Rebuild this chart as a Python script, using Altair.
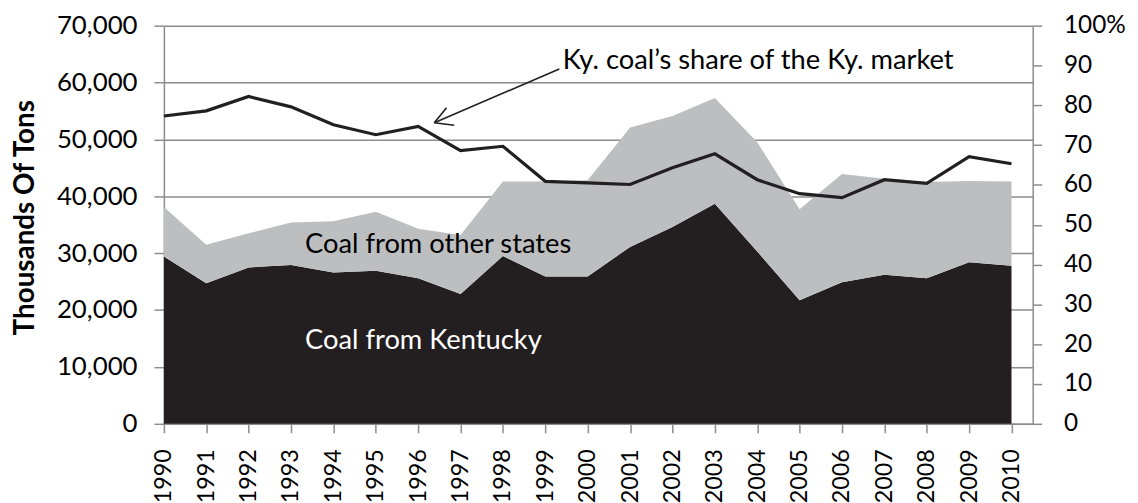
import altair as alt
import pandas as pd

years = list(range(1990, 2011))
kentucky = [29400, 24700, 27500, 27900, 26600, 26900, 25600, 22800, 29500, 25900, 25900,
            31100, 34600, 38700, 30300, 21700, 24900, 26200, 25600, 28400, 27800]
other_states = [8700, 6800, 6000, 7500, 9000, 10400, 8700, 10400, 13100, 16700, 16900,
                21000, 19500, 18600, 19200, 16000, 19000, 16900, 16900, 14300, 14800]
ky_share = [77.3, 78.6, 82.2, 79.6, 75.1, 72.6, 74.7, 68.6, 69.7, 60.9, 60.5,
            60.1, 64.3, 67.8, 61.3, 57.8, 56.8, 61.3, 60.4, 67.1, 65.3]
series_names = ["Coal from Kentucky", "Coal from other states"]
left_ticks = list(range(0, 70001, 10000))
right_ticks = list(range(0, 101, 10))

FONT = "Lato"
GRID = "#8c8c8c"
DARK = "#231f20"
LIGHT = "#bcbec0"
TICKFS = 26
LABFS = 27.5

rows = []
for i, y in enumerate(years):
    rows.append({"year": y, "series": series_names[0], "tons": kentucky[i], "ord": 0})
    rows.append({"year": y, "series": series_names[1], "tons": other_states[i], "ord": 1})
area_df = pd.DataFrame(rows)
line_df = pd.DataFrame({"year": years, "share": ky_share})

x_scale = alt.Scale(domain=[1990, 2010.5], nice=False, zero=False)
x_axis = alt.Axis(values=years, labelExpr="format(datum.value, 'd')", labelAngle=270, tickSize=9,
                  labelPadding=16, grid=False, domainColor=GRID, tickColor=GRID, domainWidth=1.5,
                  tickWidth=1.5, labelFontSize=23.5, labelColor="black", labelFont=FONT, title=None)


def xenc(field="year"):
    return alt.X(f"{field}:Q", scale=x_scale, axis=x_axis)


yl_scale = alt.Scale(domain=[0, 70000], nice=False)
yl_axis = alt.Axis(values=left_ticks, labelExpr="format(datum.value, ',')", grid=True, gridColor=GRID,
                   gridWidth=1.5, domainColor=GRID, domainWidth=1.5, tickColor=GRID, tickWidth=1.5,
                   tickSize=10, labelFontSize=TICKFS, labelColor="black", labelFont=FONT, labelPadding=17,
                   title="Thousands Of Tons", titleFont=FONT, titleFontSize=28, titleFontWeight="bold",
                   titleColor="black", titleAngle=270, titleX=-139, titleY=193,
                   titleAlign="center", titleBaseline="middle")

area = alt.Chart(area_df).mark_area(opacity=1).encode(
    x=xenc(),
    y=alt.Y("tons:Q", stack="zero", scale=yl_scale, axis=yl_axis),
    color=alt.Color("series:N", scale=alt.Scale(domain=series_names, range=[DARK, LIGHT]), legend=None),
    order=alt.Order("ord:Q"),
)

lab_df = pd.DataFrame({"year": [1993.33, 1993.33], "tons": [31420, 14540],
                       "label": ["Coal from other states", "Coal from Kentucky"],
                       "col": ["black", "white"]})
labels = alt.Chart(lab_df).mark_text(align="left", baseline="middle", font=FONT, fontSize=LABFS).encode(
    x=xenc(),
    y=alt.Y("tons:Q", scale=yl_scale, axis=yl_axis),
    text="label:N",
    color=alt.Color("col:N", scale=None),
)

left_layer = alt.layer(area, labels)

yr_scale = alt.Scale(domain=[0, 100], nice=False)
yr_axis = alt.Axis(values=right_ticks, orient="right", grid=False, domainColor=GRID, domainWidth=1.5,
                   tickColor=GRID, tickWidth=1.5, tickSize=9, labelFontSize=24.5, labelColor="black",
                   labelFont=FONT, labelPadding=22, title=None,
                   labelExpr="datum.value == 100 ? '100%' : format(datum.value, 'd')")

line = alt.Chart(line_df).mark_line(color=DARK, strokeWidth=3.2).encode(
    x=xenc(),
    y=alt.Y("share:Q", scale=yr_scale, axis=yr_axis),
)

arrow_df = pd.DataFrame({
    "x1": [1999.33, 1996.38, 1996.38],
    "y1": [89.1, 75.6, 75.6],
    "x2": [1996.38, 1996.67, 1996.85],
    "y2": [75.6, 79.4, 75.0],
})
arrow = alt.Chart(arrow_df).mark_rule(color=DARK, strokeWidth=1.6).encode(
    x=xenc("x1"),
    x2="x2:Q",
    y=alt.Y("y1:Q", scale=yr_scale, axis=yr_axis),
    y2="y2:Q",
)

ann_df = pd.DataFrame({"year": [1999.41], "share": [91.0], "label": ["Ky. coal\u2019s share of the Ky. market"]})
ann = alt.Chart(ann_df).mark_text(align="left", baseline="middle", font=FONT, fontSize=LABFS, color="black").encode(
    x=xenc(),
    y=alt.Y("share:Q", scale=yr_scale, axis=yr_axis),
    text="label:N",
)

right_layer = alt.layer(line, arrow, ann)

chart = alt.layer(left_layer, right_layer).resolve_scale(y="independent").properties(
    width=875, height=401,
    autosize=alt.AutoSizeParams(type="none"),
    padding={"left": 157, "top": 16, "right": 98, "bottom": 78},
    background="white",
).configure_view(stroke=None)

chart.save("out.html", embed_options={"renderer": "svg", "actions": False})
